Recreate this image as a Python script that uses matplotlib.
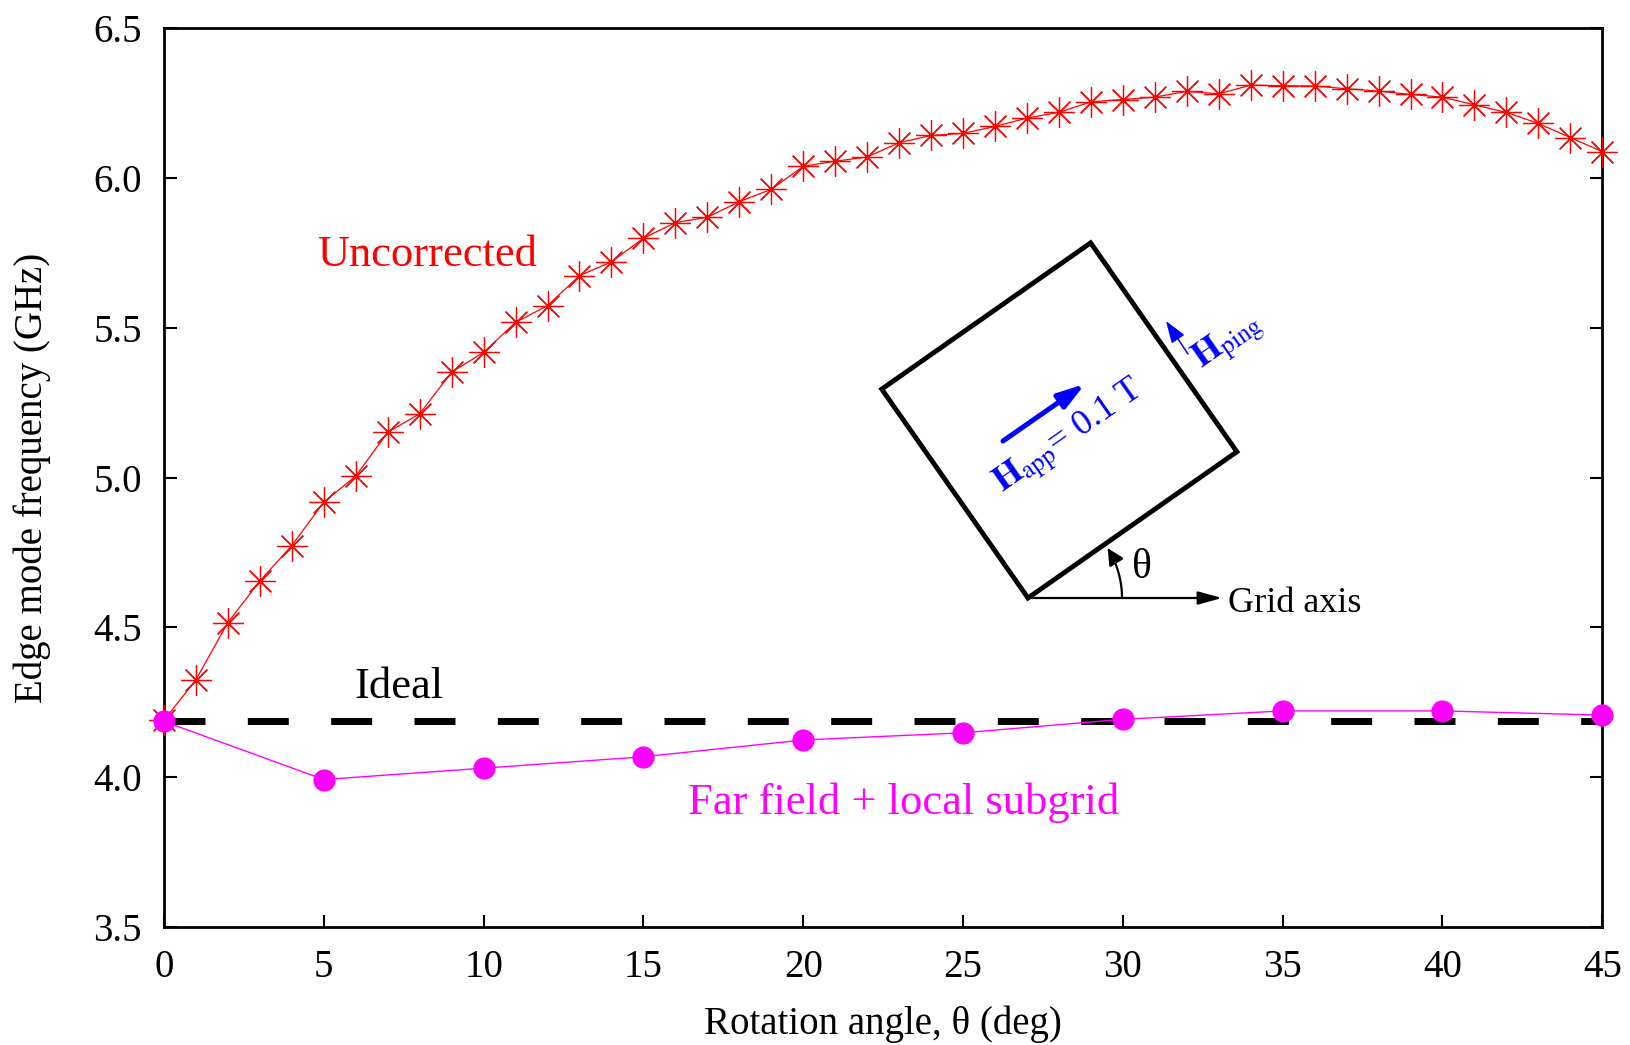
import numpy as np
import matplotlib.pyplot as plt
from matplotlib.patches import Polygon, FancyArrowPatch
from matplotlib.path import Path

plt.rcParams['font.family'] = ['Liberation Serif', 'DejaVu Serif']
plt.rcParams['mathtext.fontset'] = 'stix'

# Uncorrected edge mode frequency, every degree
theta_unc = list(range(0, 46))
freq_unc = [4.19, 4.325, 4.516, 4.655, 4.773, 4.918, 5.005, 5.151, 5.213, 5.352,
            5.418, 5.518, 5.574, 5.674, 5.72, 5.799, 5.851, 5.869, 5.921, 5.962,
            6.039, 6.056, 6.07, 6.118, 6.142, 6.149, 6.172, 6.2, 6.219, 6.254,
            6.262, 6.27, 6.289, 6.281, 6.31, 6.308, 6.307, 6.298, 6.29, 6.279,
            6.27, 6.244, 6.219, 6.182, 6.135, 6.088]

# Far field + local subgrid, every 5 degrees
theta_corr = [0, 5, 10, 15, 20, 25, 30, 35, 40, 45]
freq_corr = [4.186, 3.992, 4.03, 4.068, 4.124, 4.148, 4.193, 4.221, 4.221, 4.207]

ideal_freq = 4.186

fig = plt.figure(figsize=(16.3, 10.45), dpi=100)
ax = fig.add_axes([0.1006, 0.113, 0.8824, 0.86])

ax.plot(theta_unc, freq_unc, color='red', lw=0.9, marker=(8, 2, 0), ms=22,
        mew=0.9, clip_on=False, zorder=3)
ax.axhline(ideal_freq, color='black', lw=5, dashes=(5.9, 6.1), zorder=4)
ax.plot(theta_corr, freq_corr, color='magenta', lw=1.0, marker='o', ms=15,
        clip_on=False, zorder=5)

ax.text(4.78, 5.743, 'Uncorrected', color='red', fontsize=32, va='center')
ax.text(5.96, 4.30, 'Ideal', color='black', fontsize=32, va='center')
ax.text(16.4, 3.915, 'Far field + local subgrid', color='magenta', fontsize=32,
        va='center')

ax.set_xlim(0, 45)
ax.set_ylim(3.5, 6.5)
ax.set_xticks(range(0, 46, 5))
ax.set_yticks([3.5, 4.0, 4.5, 5.0, 5.5, 6.0, 6.5])
ax.set_yticklabels(['3.5', '4.0', '4.5', '5.0', '5.5', '6.0', '6.5'])
ax.tick_params(direction='in', length=9, width=1.5, labelsize=28, pad=16,
               right=True, top=False)
for s in ax.spines.values():
    s.set_linewidth(2)

ax.set_xlabel('Rotation angle, θ (deg)', fontsize=28, labelpad=14)
ax.set_ylabel('Edge mode frequency (GHz)', fontsize=28, labelpad=30)

# inset sketch, drawn in figure pixels (y downwards)
dax = fig.add_axes([0, 0, 1, 1], zorder=10)
dax.set_xlim(0, 1630)
dax.set_ylim(1045, 0)
dax.axis('off')
dax.patch.set_alpha(0)

ox, oy = 1028, 598
side = 255
a = np.radians(35)
ux = np.array([np.cos(a), -np.sin(a)])
uy = np.array([-np.sin(a), -np.cos(a)])
o = np.array([ox, oy])
square = [o, o + side * ux, o + side * (ux + uy), o + side * uy]
dax.add_patch(Polygon(square, closed=True, fill=False, lw=3.5, ec='black',
                      joinstyle='miter'))

# grid axis arrow
dax.add_patch(FancyArrowPatch((ox, oy), (1222, oy),
                              arrowstyle='-|>,head_length=1.45,head_width=0.4',
                              mutation_scale=10, lw=1.6, color='black',
                              shrinkA=0, shrinkB=0))
dax.text(1228, 603, 'Grid axis', fontsize=26, va='center', ha='left')

# theta arc
r = 94
t = np.radians(np.linspace(0, 32, 30))
arc = Path(np.column_stack([ox + r * np.cos(t), oy - r * np.sin(t)]))
dax.add_patch(FancyArrowPatch(path=arc,
                              arrowstyle='-|>,head_length=1.0,head_width=0.5',
                              mutation_scale=10, lw=1.6, color='black'))
dax.text(1142, 568, 'θ', fontsize=30, ha='center', va='center')

# applied field
dax.add_patch(FancyArrowPatch((1003, 441), (1085, 384),
                              arrowstyle='-|>,head_length=1.6,head_width=0.5',
                              mutation_scale=10, lw=3.6, color='blue',
                              shrinkA=0, shrinkB=0))
dax.text(1070, 438, r'$\mathbf{H}_{\mathrm{app}}$= 0.1 T', fontsize=26,
         color='blue', rotation=35, rotation_mode='anchor',
         ha='center', va='center')

# ping field
dax.add_patch(FancyArrowPatch((1188, 354), (1166, 321),
                              arrowstyle='-|>,head_length=1.35,head_width=0.47',
                              mutation_scale=10, lw=1.1, color='blue',
                              shrinkA=0, shrinkB=0))
dax.text(1228, 342, r'$\mathbf{H}_{\mathrm{ping}}$', fontsize=26,
         color='blue', rotation=35, rotation_mode='anchor',
         ha='center', va='center')

fig.savefig('out.png', dpi=100)
